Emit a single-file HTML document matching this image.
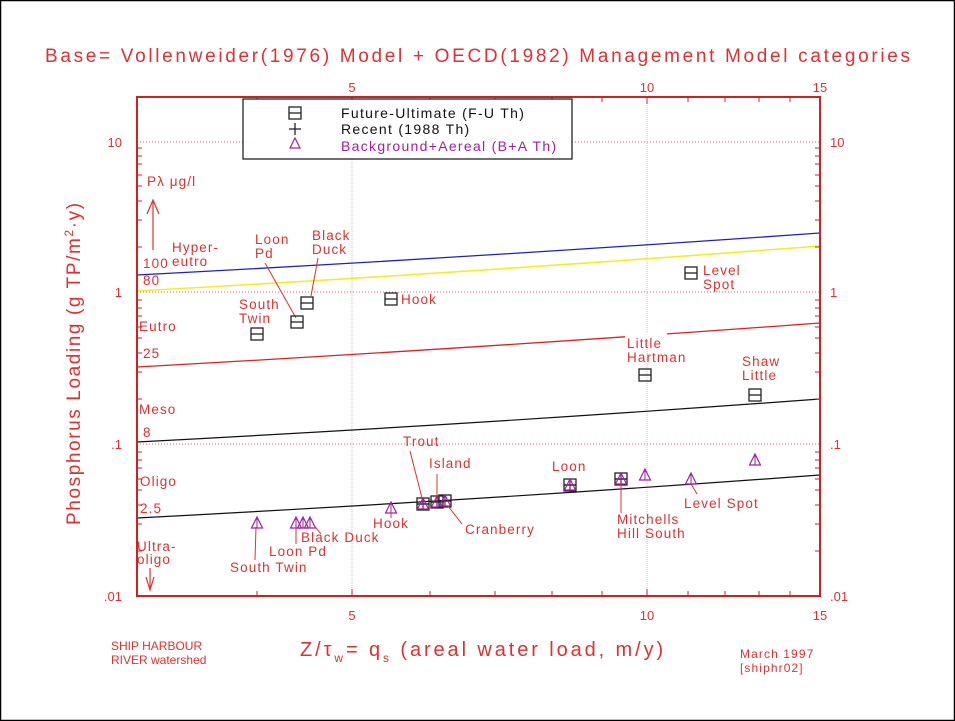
<!DOCTYPE html>
<html><head><meta charset="utf-8"><style>
html,body{margin:0;padding:0;background:#fff;}
svg{display:block;font-family:"Liberation Sans",sans-serif;}
.a{letter-spacing:1.1px;}
</style></head><body>
<svg width="955" height="721" viewBox="0 0 955 721" xmlns="http://www.w3.org/2000/svg">
<defs>
<g id="sq"><rect x="-6" y="-6" width="12" height="12" fill="none" stroke="#222" stroke-width="1.3"/><line x1="-6" y1="0" x2="6" y2="0" stroke="#222" stroke-width="1.3"/></g>
<g id="pl"><line x1="-6" y1="0" x2="6" y2="0" stroke="#222" stroke-width="1.3"/><line x1="0" y1="-6" x2="0" y2="6" stroke="#222" stroke-width="1.3"/></g>
<g id="tr"><polygon points="0,-6 5.5,5 -5.5,5" fill="none" stroke="#a020a0" stroke-width="1.2"/><line x1="0" y1="-6" x2="0" y2="5" stroke="#a020a0" stroke-width="1"/></g>
</defs>
<rect x="0.5" y="0.5" width="954" height="720" fill="#fff" stroke="#000" stroke-width="1.5"/>
<text x="45" y="62" font-size="19" fill="#e03030" textLength="865" lengthAdjust="spacing">Base= Vollenweider(1976) Model + OECD(1982) Management Model categories</text>

<g stroke="#e06060" stroke-width="1" stroke-dasharray="1,2">
<line x1="137" y1="142" x2="820" y2="142"/><line x1="137" y1="292" x2="820" y2="292"/><line x1="137" y1="444" x2="820" y2="444"/>
</g>
<g stroke="#f0b0b0" stroke-width="1" stroke-dasharray="1,1">
<line x1="352" y1="97" x2="352" y2="596"/><line x1="647" y1="97" x2="647" y2="596"/>
</g>

<path d="M137,275 Q480,257 820,233" stroke="#2020c0" stroke-width="1.3" fill="none"/>
<path d="M137,291 Q480,272 820,246" stroke="#f0f020" stroke-width="1.6" fill="none"/>
<path d="M137,367 Q480,348 820,323" stroke="#e02020" stroke-width="1.3" fill="none"/>
<path d="M137,442 Q480,424 820,399" stroke="#111" stroke-width="1.2" fill="none"/>
<path d="M137,518 Q480,500 820,475" stroke="#111" stroke-width="1.2" fill="none"/>

<rect x="137" y="97" width="683" height="499" fill="none" stroke="#d02020" stroke-width="2"/>
<g stroke="#d02020" stroke-width="1">
<path d="M137,551h5M137,524h5M137,505h5M137,490h5M137,479h5M137,468h5M137,460h5M137,452h5M137,399h5M137,372h5M137,353h5M137,338h5M137,327h5M137,316h5M137,308h5M137,300h5M137,247h5M137,220h5M137,201h5M137,186h5M137,175h5M137,164h5M137,156h5M137,148h5"/>
<path d="M820,551h-5M820,524h-5M820,505h-5M820,490h-5M820,479h-5M820,468h-5M820,460h-5M820,452h-5M820,399h-5M820,372h-5M820,353h-5M820,338h-5M820,327h-5M820,316h-5M820,308h-5M820,300h-5M820,247h-5M820,220h-5M820,201h-5M820,186h-5M820,175h-5M820,164h-5M820,156h-5M820,148h-5"/>
<path d="M257,596v-5M430,596v-5M495,596v-5M552,596v-5M602,596v-5M688,596v-5M725,596v-5M759,596v-5M790,596v-5M352,596v-7M647,596v-7"/>
<path d="M257,97v5M430,97v5M495,97v5M552,97v5M602,97v5M688,97v5M725,97v5M759,97v5M790,97v5M352,97v7M647,97v7"/>
</g>
<g fill="#e03030" font-size="13">
<text x="122" y="147" text-anchor="end">10</text>
<text x="122" y="297" text-anchor="end">1</text>
<text x="122" y="449" text-anchor="end">.1</text>
<text x="122" y="601" text-anchor="end">.01</text>
<text x="830" y="147">10</text>
<text x="830" y="297">1</text>
<text x="830" y="449">.1</text>
<text x="830" y="601">.01</text>
<text x="352" y="92" text-anchor="middle">5</text>
<text x="647" y="92" text-anchor="middle">10</text>
<text x="820" y="92" text-anchor="middle">15</text>
<text x="352" y="620" text-anchor="middle">5</text>
<text x="647" y="620" text-anchor="middle">10</text>
<text x="820" y="620" text-anchor="middle">15</text>
</g>

<text transform="translate(80,525) rotate(-90)" font-size="19" fill="#e03030" style="letter-spacing:1.6px">Phosphorus Loading (g TP/m<tspan font-size="12" dy="-7">2</tspan><tspan dy="7">·y)</tspan></text>
<text x="300" y="656" font-size="20" fill="#e03030" style="letter-spacing:2.9px">Z/τ<tspan font-size="12" dy="6">w</tspan><tspan dy="-6">= q</tspan><tspan font-size="12" dy="6">s</tspan><tspan dy="-6"> (areal water load, m/y)</tspan></text>
<g fill="#e03030" font-size="12">
<text x="111" y="650">SHIP HARBOUR</text>
<text x="111" y="664">RIVER watershed</text>
<text x="740" y="658" class="a">March 1997</text>
<text x="740" y="672" class="a">[shiphr02]</text>
</g>

<rect x="243" y="99" width="329" height="60" fill="#fff" stroke="#111" stroke-width="1.2"/>
<use href="#sq" x="295" y="113"/>
<use href="#pl" x="295" y="129"/>
<polygon points="295,138 300,148 290,148" fill="none" stroke="#a020a0" stroke-width="1.2"/>
<g font-size="14" style="letter-spacing:1.3px">
<text x="341" y="118" fill="#111">Future-Ultimate (F-U Th)</text>
<text x="341" y="134" fill="#111">Recent (1988 Th)</text>
<text x="341" y="151" fill="#a020a0">Background+Aereal (B+A Th)</text>
</g>

<g fill="#e03030" font-size="13.5" class="a">
<text x="147" y="186">Pλ μg/l</text>
<text x="143" y="268">100</text>
<text x="172" y="252">Hyper-</text>
<text x="172" y="266">eutro</text>
<text x="143" y="285">80</text>
<text x="139" y="331">Eutro</text>
<text x="143" y="358">25</text>
<text x="139" y="414">Meso</text>
<text x="143" y="437">8</text>
<text x="140" y="486">Oligo</text>
<text x="140" y="513">2.5</text>
<text x="137" y="551">Ultra-</text>
<text x="137" y="564">oligo</text>
</g>
<g stroke="#e03030" stroke-width="1.2" fill="none">
<path d="M153,250V200M147,214L153,200L159,214"/>
<path d="M150,568V590M146,577L150,590L154,577"/>
</g>

<g stroke="#e03030" stroke-width="1" fill="none">
<path d="M265,263L296,318"/><path d="M318,258L311,296"/>
</g>
<rect x="625" y="332" width="42" height="10" fill="#fff"/>
<g fill="#e03030" font-size="13.5" class="a">
<text x="255" y="244">Loon</text><text x="255" y="258">Pd</text>
<text x="312" y="240">Black</text><text x="312" y="254">Duck</text>
<text x="239" y="309">South</text><text x="239" y="323">Twin</text>
<text x="401" y="304">Hook</text>
<text x="703" y="275">Level</text><text x="703" y="289">Spot</text>
<text x="627" y="348">Little</text><text x="627" y="362">Hartman</text>
<text x="742" y="366">Shaw</text><text x="742" y="380">Little</text>
</g>

<use href="#sq" x="257" y="334"/>
<use href="#sq" x="297" y="322"/>
<use href="#sq" x="307" y="303"/>
<use href="#sq" x="391" y="299"/>
<use href="#sq" x="691" y="273"/>
<use href="#sq" x="645" y="375"/>
<use href="#sq" x="755" y="395"/>

<use href="#tr" x="257" y="523"/>
<use href="#tr" x="296" y="523"/>
<use href="#tr" x="303" y="523"/>
<use href="#tr" x="310" y="523"/>
<use href="#tr" x="391" y="508"/>
<use href="#sq" x="423" y="504"/><use href="#pl" x="423" y="504"/><use href="#tr" x="423" y="504"/>
<use href="#sq" x="437" y="502"/><use href="#pl" x="437" y="502"/><use href="#tr" x="437" y="502"/>
<use href="#sq" x="445" y="501"/><use href="#pl" x="445" y="501"/><use href="#tr" x="445" y="501"/>
<use href="#sq" x="570" y="485"/><use href="#pl" x="570" y="485"/><use href="#tr" x="570" y="485"/>
<use href="#sq" x="621" y="479"/><use href="#pl" x="621" y="479"/><use href="#tr" x="621" y="479"/>
<use href="#tr" x="645" y="475"/>
<use href="#tr" x="691" y="479"/>
<use href="#tr" x="755" y="460"/>

<g fill="#e03030" font-size="13.5" class="a">
<text x="230" y="572">South Twin</text>
<text x="269" y="556">Loon Pd</text>
<text x="301" y="542">Black Duck</text>
<text x="373" y="528">Hook</text>
<text x="403" y="446">Trout</text>
<text x="429" y="468">Island</text>
<text x="465" y="534">Cranberry</text>
<text x="552" y="471">Loon</text>
<text x="617" y="524">Mitchells</text>
<text x="617" y="538">Hill South</text>
<text x="684" y="508">Level Spot</text>
</g>
<g stroke="#e03030" stroke-width="1" fill="none">
<path d="M256,527L255,560"/><path d="M296,527V544"/><path d="M313,524L321,534"/>
<path d="M391,512V518"/><path d="M410,451L422,498"/><path d="M437,474V497"/>
<path d="M448,506L462,524"/><path d="M621,484V513"/><path d="M691,484L697,494"/>
</g>
</svg>
</body></html>
